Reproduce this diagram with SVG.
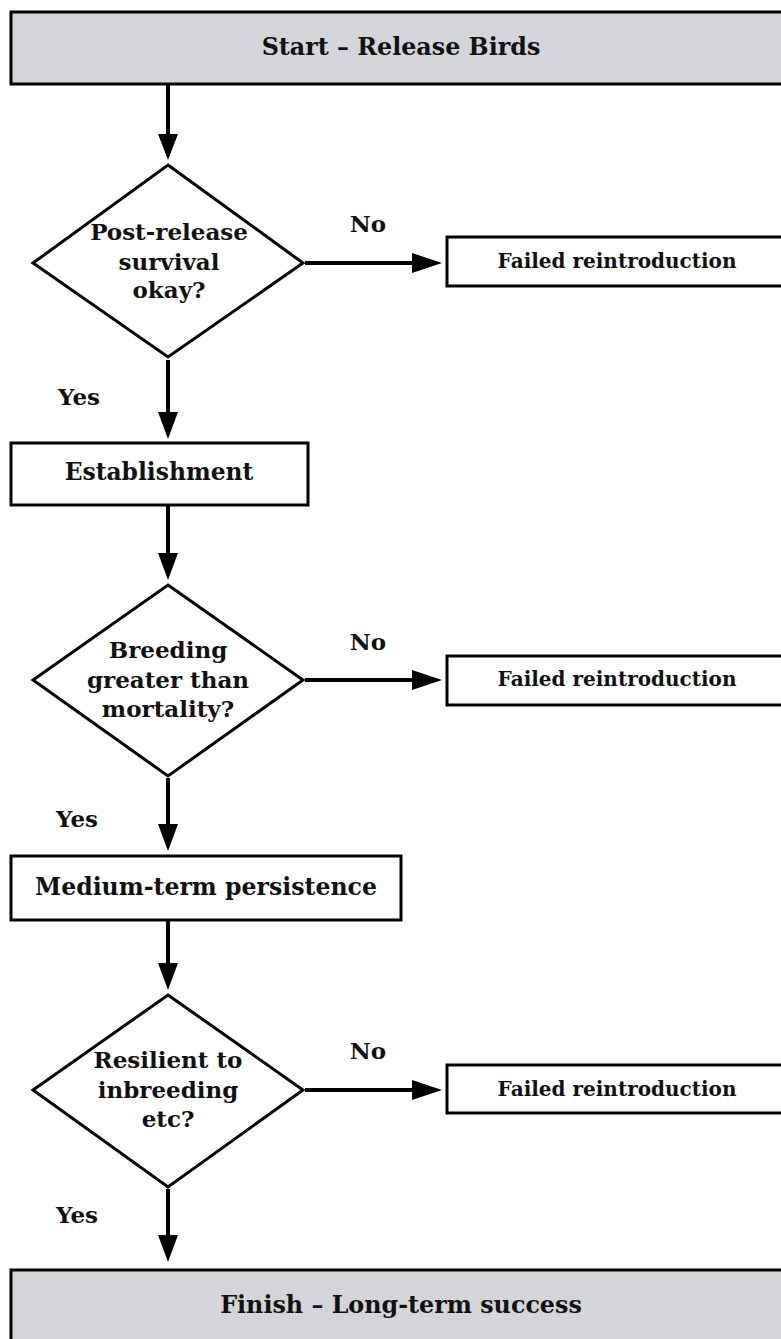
<svg xmlns="http://www.w3.org/2000/svg" width="781" height="1339" viewBox="0 0 781 1339">
<style>
.grey{fill:#d4d5d8;stroke:#000;stroke-width:3}
.box{fill:#fff;stroke:#000;stroke-width:3}
.dia{fill:#fff;stroke:#000;stroke-width:3}
.t{font-family:"DejaVu Serif",serif;font-weight:bold;fill:#111;text-anchor:middle}
.c{stroke:#000;stroke-width:4;fill:none}
.ah{fill:#000}
</style>
<g id="start"><rect class="grey" x="11" y="12" width="775" height="72"/><text class="t" x="401" y="55" font-size="23.8">Start – Release Birds</text></g>
<g id="d1"><polygon class="dia" points="168,165 303,263 168,357 33,263"/>
<text class="t" font-size="23"><tspan x="169" y="240">Post-release</tspan><tspan x="169" y="270">survival</tspan><tspan x="169" y="298">okay?</tspan></text></g>
<g id="f1"><rect class="box" x="447" y="237" width="340" height="49"/><text class="t" x="617" y="268" font-size="20">Failed reintroduction</text></g>
<g id="est"><rect class="box" x="11" y="443" width="297" height="62"/><text class="t" x="159" y="480" font-size="23.4">Establishment</text></g>
<g id="d2"><polygon class="dia" points="168,585 303,680 168,776 33,680"/>
<text class="t" font-size="23"><tspan x="168" y="658">Breeding</tspan><tspan x="168" y="688">greater than</tspan><tspan x="168" y="717">mortality?</tspan></text></g>
<g id="f2"><rect class="box" x="447" y="656" width="340" height="49"/><text class="t" x="617" y="686" font-size="20">Failed reintroduction</text></g>
<g id="med"><rect class="box" x="11" y="856" width="390" height="64"/><text class="t" x="206" y="895" font-size="23.6">Medium-term persistence</text></g>
<g id="d3"><polygon class="dia" points="168,995 303,1090 168,1187 33,1090"/>
<text class="t" font-size="23"><tspan x="168" y="1068">Resilient to</tspan><tspan x="168" y="1098">inbreeding</tspan><tspan x="168" y="1127">etc?</tspan></text></g>
<g id="f3"><rect class="box" x="447" y="1065" width="340" height="48"/><text class="t" x="617" y="1096" font-size="20">Failed reintroduction</text></g>
<g id="finish"><rect class="grey" x="11" y="1270" width="775" height="80"/><text class="t" x="401" y="1313" font-size="23.8">Finish – Long-term success</text></g>
<g id="connectors">
<line class="c" x1="168" y1="84" x2="168" y2="136"/><polygon class="ah" points="158,134 178,134 168,160"/>
<line class="c" x1="305" y1="263" x2="415" y2="263"/><polygon class="ah" points="412,253 412,273 442,263"/>
<line class="c" x1="168" y1="360" x2="168" y2="415"/><polygon class="ah" points="158,412 178,412 168,439"/>
<line class="c" x1="168" y1="505" x2="168" y2="555"/><polygon class="ah" points="158,553 178,553 168,580"/>
<line class="c" x1="305" y1="680" x2="415" y2="680"/><polygon class="ah" points="412,670 412,690 442,680"/>
<line class="c" x1="168" y1="778" x2="168" y2="826"/><polygon class="ah" points="158,824 178,824 168,851"/>
<line class="c" x1="168" y1="920" x2="168" y2="965"/><polygon class="ah" points="158,963 178,963 168,990"/>
<line class="c" x1="305" y1="1090" x2="415" y2="1090"/><polygon class="ah" points="412,1080 412,1100 442,1090"/>
<line class="c" x1="168" y1="1189" x2="168" y2="1237"/><polygon class="ah" points="158,1235 178,1235 168,1262"/>
</g>
<g id="labels">
<text class="t" x="368" y="232" font-size="23">No</text>
<text class="t" x="368" y="650" font-size="23">No</text>
<text class="t" x="368" y="1059" font-size="23">No</text>
<text class="t" x="79" y="405" font-size="23">Yes</text>
<text class="t" x="77" y="827" font-size="23">Yes</text>
<text class="t" x="77" y="1223" font-size="23">Yes</text>
</g>
</svg>
